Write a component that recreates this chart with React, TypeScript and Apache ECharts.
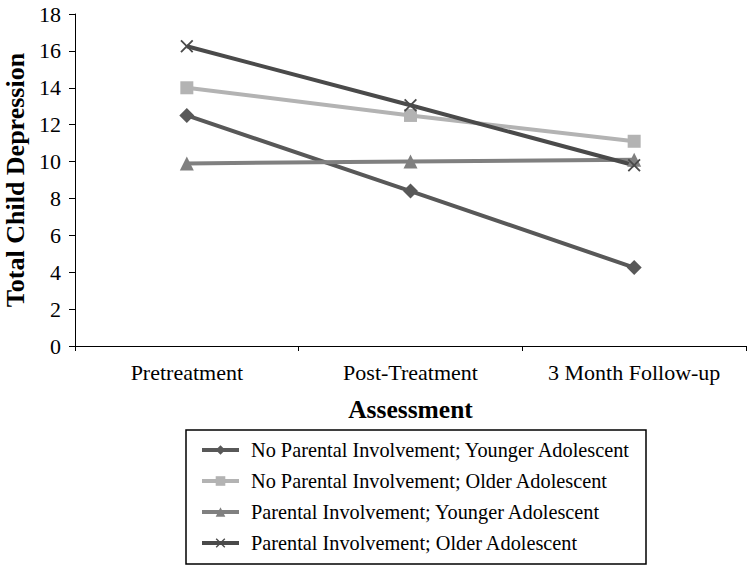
import React, { useEffect, useRef } from "react";
import * as echarts from "echarts";

const categories = ["Pretreatment", "Post-Treatment", "3 Month Follow-up"];
const seriesNames = [
  "No Parental Involvement; Younger Adolescent",
  "No Parental Involvement; Older Adolescent",
  "Parental Involvement; Younger Adolescent",
  "Parental Involvement; Older Adolescent",
];
const noPIYounger = [12.5, 8.4, 4.25];
const noPIOlder = [14.0, 12.5, 11.1];
const piYounger = [9.9, 10.0, 10.1];
const piOlder = [16.25, 13.05, 9.8];
const yTicks = { min: 0, max: 18, interval: 2 };

const FONT = "'Liberation Serif', 'Times New Roman', serif";
const CROSS = "path://M0,1L1,0L5,4L9,0L10,1L6,5L10,9L9,10L5,6L1,10L0,9L4,5Z";

export default function App() {
  const ref = useRef<HTMLDivElement>(null);
  useEffect(() => {
    if (!ref.current) return;
    const chart = echarts.init(ref.current, undefined, { renderer: "svg" });
    const mk = (name: string, data: number[], color: string, symbol: string, size: number) => ({
      name,
      type: "line",
      data,
      symbol,
      symbolSize: size,
      showAllSymbol: true,
      lineStyle: { color, width: 4 },
      itemStyle: { color },
      emphasis: { disabled: true },
    });
    chart.setOption({
      animation: false,
      backgroundColor: "#ffffff",
      textStyle: { fontFamily: FONT, color: "#000" },
      grid: {
        left: 75,
        right: 4,
        top: 14,
        bottom: 222,
        containLabel: false,
        outerBoundsMode: "none",
      },
      xAxis: {
        type: "category",
        data: categories,
        boundaryGap: true,
        name: "Assessment",
        nameLocation: "middle",
        nameGap: 50,
        nameTextStyle: { fontFamily: FONT, fontSize: 25.5, fontWeight: "bold", color: "#000" },
        axisLine: { lineStyle: { color: "#000", width: 1 } },
        axisTick: { show: true, length: 5, alignWithLabel: false, lineStyle: { color: "#000" } },
        axisLabel: {
          fontFamily: FONT,
          fontSize: 22,
          color: "#000",
          margin: 15,
          interval: 0,
          hideOverlap: false,
        },
        splitLine: { show: false },
      },
      yAxis: {
        type: "value",
        min: yTicks.min,
        max: yTicks.max,
        interval: yTicks.interval,
        name: "Total Child Depression",
        nameLocation: "middle",
        nameGap: 46,
        nameRotate: 90,
        nameTextStyle: {
          fontFamily: FONT,
          fontSize: 26,
          lineHeight: 26,
          fontWeight: "bold",
          color: "#000",
        },
        axisLine: { show: true, lineStyle: { color: "#000", width: 1 } },
        axisTick: { show: true, length: 6, lineStyle: { color: "#000" } },
        axisLabel: { fontFamily: FONT, fontSize: 22, color: "#000", margin: 14 },
        splitLine: { show: false },
      },
      legend: {
        orient: "vertical",
        left: 200,
        top: 440,
        padding: 0,
        itemGap: 11,
        itemWidth: 37,
        itemHeight: 12,
        lineStyle: { width: 4 },
        textStyle: { fontFamily: FONT, fontSize: 20.3, color: "#000", padding: [0, 0, 0, 7] },
        data: seriesNames,
      },
      graphic: [
        {
          type: "rect",
          shape: { x: 186, y: 430, width: 460, height: 134 },
          style: { fill: "none", stroke: "#000", lineWidth: 1.5 },
          silent: true,
        },
      ],
      series: [
        mk(seriesNames[0], noPIYounger, "#585858", "diamond", 15),
        mk(seriesNames[1], noPIOlder, "#b3b3b3", "rect", 13),
        mk(seriesNames[2], piYounger, "#808080", "triangle", 14),
        mk(seriesNames[3], piOlder, "#4a4a4a", CROSS, 13),
      ],
    });
    return () => chart.dispose();
  }, []);
  return (
    <div
      ref={ref}
      style={{ position: "fixed", left: 0, top: 0, width: 750, height: 568, background: "#fff" }}
    />
  );
}
